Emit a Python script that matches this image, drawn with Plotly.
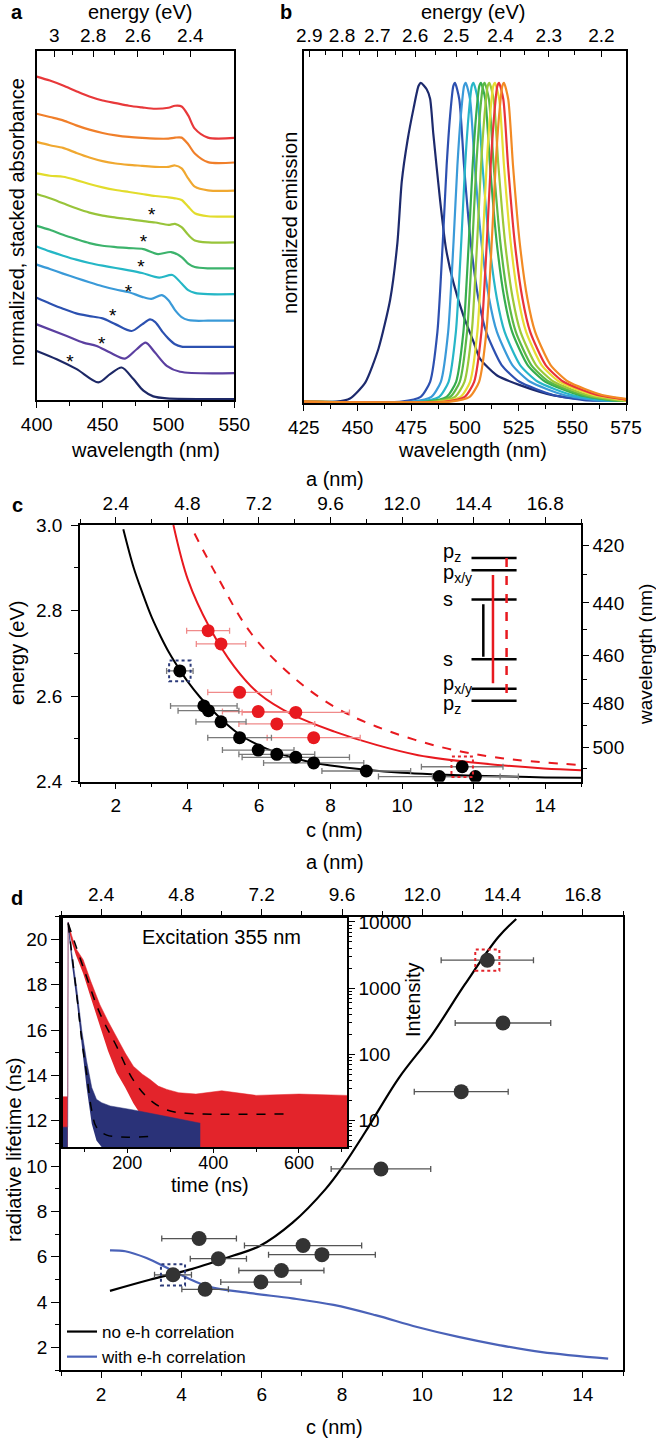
import numpy as np
import plotly.graph_objects as go

W, H = 656, 1441
HC = 1239.84  # eV * nm
FONT = "Arial, Liberation Sans, Helvetica, sans-serif"
TICK = 19
TXT = 20

# ---------------- panel a : stacked absorbance (arbitrary offset units) ----------------
abs_wl = [400, 410, 420, 430, 440, 450, 460, 470, 480, 490, 500, 505, 510, 515, 520, 530, 550]
abs_red = [9.72, 9.60, 9.45, 9.28, 9.12, 9.00, 8.92, 8.84, 8.79, 8.75, 8.78, 8.84, 8.82, 8.55, 8.15, 7.88, 7.87]
abs_orange = [8.60, 8.50, 8.40, 8.25, 8.12, 8.02, 7.95, 7.90, 7.87, 7.85, 7.85, 7.88, 7.88, 7.68, 7.40, 7.14, 7.13]
abs_lorange = [7.75, 7.65, 7.57, 7.42, 7.28, 7.17, 7.10, 7.06, 7.03, 7.00, 7.00, 7.04, 6.95, 6.65, 6.40, 6.29, 6.28]
abs_yellow = [6.80, 6.73, 6.70, 6.60, 6.48, 6.38, 6.30, 6.24, 6.18, 6.12, 6.08, 6.05, 6.00, 5.80, 5.60, 5.51, 5.50]
abs_ygreen = [6.18, 6.05, 5.90, 5.75, 5.62, 5.53, 5.47, 5.42, 5.37, 5.32, 5.25, 5.28, 5.18, 4.95, 4.78, 4.72, 4.72]

green_wl = [400, 410, 420, 430, 440, 450, 460, 470, 481, 492, 502, 510, 515, 520, 530, 550]
abs_green = [5.22, 5.10, 4.95, 4.82, 4.70, 4.62, 4.58, 4.55, 4.52, 4.37, 4.43, 4.28, 4.08, 3.98, 3.94, 3.94]
cyan_wl = [400, 410, 420, 430, 440, 450, 460, 470, 480, 493, 503, 510, 515, 520, 530, 550]
abs_cyan = [4.60, 4.45, 4.32, 4.20, 4.10, 4.02, 3.95, 3.88, 3.80, 3.66, 3.74, 3.48, 3.28, 3.20, 3.16, 3.16]
sky_wl = [400, 410, 420, 430, 440, 450, 460, 470, 480, 487, 495, 500, 505, 510, 515, 520, 530, 550]
abs_sky = [4.05, 3.92, 3.78, 3.65, 3.52, 3.40, 3.30, 3.22, 3.08, 3.02, 3.13, 2.98, 2.68, 2.47, 2.38, 2.36, 2.36, 2.36]
blue_wl = [400, 410, 420, 430, 440, 450, 460, 472, 480, 486, 490, 496, 500, 505, 510, 520, 550]
abs_blue = [3.05, 2.88, 2.72, 2.58, 2.50, 2.43, 2.25, 2.05, 2.25, 2.40, 2.32, 2.00, 1.82, 1.65, 1.58, 1.57, 1.57]
purple_wl = [400, 422.8, 435.4, 445.5, 455.7, 467, 475.9, 482.7, 489.8, 498.7, 508.8, 550]
abs_purple = [2.25, 1.90, 1.70, 1.60, 1.40, 1.22, 1.50, 1.70, 1.40, 1.00, 0.82, 0.78]
navy_wl = [400, 415.2, 430.4, 446.8, 455.7, 464.5, 473.4, 481, 488.5, 498.7, 550]
abs_navy = [1.45, 1.20, 0.90, 0.50, 0.75, 0.95, 0.60, 0.25, 0.08, 0.02, 0.0]

star_wl = [487.3, 481.0, 479.2, 469.6, 457.7, 449.3, 425.3]
star_v = [5.62, 4.82, 4.05, 3.32, 2.58, 1.75, 1.20]

energy_a_ticks = [3.0, 2.8, 2.6, 2.4]
energy_a_minor = [2.9, 2.7, 2.5]

# ---------------- panel b : normalized emission ----------------
em_wl_navy = [425, 440, 446.5, 453.6, 459.8, 465.2, 468.6, 470.6, 473.3, 476.1, 478.4, 479.5,
              482.2, 483.8, 485.3, 488.4, 491.2, 494.6, 499.3, 503.9, 507, 514.8, 525.6, 541.2, 560, 575]
em_navy = [0, 0, 0.01, 0.06, 0.167, 0.32, 0.5, 0.69, 0.82, 0.92, 0.99, 1.0,
           0.98, 0.95, 0.84, 0.635, 0.48, 0.375, 0.27, 0.19, 0.135, 0.083, 0.052, 0.02, 0.005, 0.003]
# line shape (offset from the peak in nm)
em_offset = [-25, -16, -11.6, -8.2, -5.7, -3.9, -2.3, -0.8, 0, 2.0, 4.2, 7.3, 10.9, 14.5, 21.7, 30, 45.7, 60]
em_profile = [0.0, 0.015, 0.0625, 0.219, 0.5, 0.74, 0.896, 0.99, 1.0, 0.948, 0.74, 0.5, 0.323, 0.219, 0.115, 0.0625, 0.021, 0.005]
em_peaks = [495.4, 500.4, 504.0, 507.5, 509.2, 511.4, 514.0, 515.9, 518.2]
em_colors = ["#2d50b0", "#3a9ad9", "#27b6c8", "#36ad4f", "#5cb946", "#9cc83a", "#e6dd34", "#e8333a", "#f28a24"]

energy_b_ticks = [2.9, 2.8, 2.7, 2.6, 2.5, 2.4, 2.3, 2.2]
energy_b_minor = [2.85, 2.75, 2.65, 2.55, 2.45, 2.35, 2.25]

# ---------------- panel c : energy vs size ----------------
fit_c = [2.21, 2.5, 2.75, 3.0, 3.25, 3.5, 3.79, 4.0, 4.35, 4.7, 5.0, 5.5, 6.0, 6.5, 7.0, 7.5, 8.0,
         9.0, 10.0, 11.0, 12.0, 13.0, 14.0, 15.0]
fit_E = [2.99, 2.90, 2.84, 2.785, 2.74, 2.70, 2.661, 2.635, 2.598, 2.567, 2.542, 2.508, 2.485, 2.468,
         2.455, 2.445, 2.438, 2.428, 2.421, 2.417, 2.414, 2.412, 2.41, 2.409]
red_fit_c = [3.61, 4.02, 4.61, 5.31, 6.01, 6.95, 8.11, 9.28, 10.45, 12.2, 13.96, 15.0]
red_fit_E = [3.0, 2.871, 2.762, 2.669, 2.605, 2.556, 2.517, 2.486, 2.462, 2.443, 2.431, 2.427]
red_dash_c = [4.2, 4.84, 5.78, 6.95, 8.11, 9.28, 11.04, 12.79, 15.0]
red_dash_E = [2.98, 2.879, 2.747, 2.645, 2.575, 2.529, 2.482, 2.455, 2.439]

pts_c = [3.79, 4.46, 4.59, 4.94, 5.46, 5.98, 6.5, 7.03, 7.53, 9.0, 11.04, 11.68, 12.05]
pts_E = [2.659, 2.577, 2.566, 2.54, 2.503, 2.474, 2.464, 2.457, 2.444, 2.425, 2.412, 2.435, 2.412]
pts_cerr = [0.37, 0.93, 0.85, 0.7, 0.89, 1.0, 1.06, 1.5, 1.4, 1.24, 1.7, 1.14, 1.2]
red_c = [4.58, 4.94, 5.46, 5.98, 6.5, 7.03, 7.53]
red_E = [2.753, 2.722, 2.609, 2.564, 2.535, 2.562, 2.503]
red_cerr = [0.6, 0.69, 0.89, 1.0, 1.06, 1.5, 1.3]

wl_ticks = [420, 440, 460, 480, 500]
wl_minor = [430, 450, 470, 490, 510]

level_E = [2.923, 2.894, 2.826, 2.686, 2.617, 2.589]
level_names = ["p<sub>z</sub>", "p<sub>x/y</sub>", "s", "s", "p<sub>x/y</sub>", "p<sub>z</sub>"]
level_shift = [5, -3, 0, 0, 4, -4]
level_c = [11.94, 13.2]
trans_c = [12.27, 12.54, 12.92]
trans_top = [2.815, 2.883, 2.923]
trans_bot = [2.692, 2.63, 2.591]

# ---------------- panel d : radiative lifetime ----------------
tau_c = [3.79, 4.44, 4.59, 4.92, 5.98, 6.49, 7.03, 7.5, 8.97, 10.97, 12.01, 11.62]
tau = [5.2, 6.8, 4.56, 5.91, 4.88, 5.39, 6.49, 6.09, 9.87, 13.28, 16.31, 19.08]
tau_cerr = [0.46, 0.93, 0.58, 0.7, 1.0, 1.06, 1.46, 1.33, 1.24, 1.17, 1.19, 1.15]
nocorr_c = [2.22, 3.21, 4.25, 5.28, 5.94, 6.77, 7.59, 8.0, 8.58, 9.41, 10.24, 11.06, 11.89, 12.34]
nocorr_tau = [4.49, 4.98, 5.45, 6.04, 6.46, 7.5, 8.98, 9.93, 11.5, 13.87, 15.79, 18.01, 20.09, 20.9]
corr_c = [2.22, 2.6, 3.13, 3.65, 4.16, 4.68, 5.72, 6.76, 7.79, 8.83, 9.87, 10.9, 11.94, 12.98, 14.63]
corr_tau = [6.28, 6.24, 5.94, 5.5, 5.05, 4.68, 4.39, 4.16, 3.87, 3.42, 2.9, 2.46, 2.09, 1.79, 1.5]

# inset: decay traces (log10 intensity envelopes of the noisy data)
red_t = [50, 61, 62, 70, 80, 97, 115, 136, 155, 175, 195, 214, 235, 253, 272, 292, 320, 360, 420, 500, 600, 712]
red_hi = [1.36, 1.36, 4.0, 3.8, 3.6, 3.43, 3.1, 2.75, 2.5, 2.25, 2.02, 1.82, 1.7, 1.62, 1.52, 1.47, 1.42, 1.40, 1.45, 1.38, 1.40, 1.38]
red_lo = [0.6, 0.6, 3.92, 3.7, 3.5, 3.22, 2.85, 2.43, 2.05, 1.72, 1.5, 1.26, 1.05, 0.85, 0.68, 0.6, 0.6, 0.6, 0.6, 0.6, 0.6, 0.6]
blue_t = [50, 61, 62, 70, 82, 94, 105, 117, 128, 140, 160, 214, 292, 370]
blue_hi = [0.9, 0.9, 4.0, 3.55, 3.0, 2.35, 1.9, 1.5, 1.32, 1.27, 1.22, 1.16, 1.06, 0.96]
blue_lo = [0.6, 0.6, 3.92, 3.4, 2.8, 2.1, 1.5, 0.95, 0.7, 0.6, 0.6, 0.6, 0.6, 0.6]
red_fit_t = [62, 97, 136, 175, 214, 253, 292, 339, 572]
red_fit_I = [3.98, 3.32, 2.62, 2.12, 1.61, 1.31, 1.16, 1.11, 1.10]
blue_fit_t = [62, 82, 94, 105, 117, 128, 152, 253]
blue_fit_I = [3.98, 2.9, 2.2, 1.71, 1.15, 0.9, 0.78, 0.76]
int_ticks = [10, 100, 1000, 10000]


def px(x):
    return x / W


def py(y):
    return 1 - y / H


def dummy(xa, ya, x, y):
    return go.Scatter(x=[x], y=[y], xaxis=xa, yaxis=ya, mode="markers",
                      marker=dict(opacity=0), hoverinfo="skip", showlegend=False)


fig = go.Figure()

# panel a curves
abs_sets = [
    (abs_wl, abs_red, "#e8383a"), (abs_wl, abs_orange, "#f07f2a"), (abs_wl, abs_lorange, "#f0a830"),
    (abs_wl, abs_yellow, "#e2dc2c"), (abs_wl, abs_ygreen, "#98c43a"), (green_wl, abs_green, "#3cb36c"),
    (cyan_wl, abs_cyan, "#25b7c6"), (sky_wl, abs_sky, "#3a9ad8"), (blue_wl, abs_blue, "#2c51b0"),
    (purple_wl, abs_purple, "#5b3fa0"), (navy_wl, abs_navy, "#1d2866"),
]
for wl, v, col in abs_sets:
    fig.add_trace(go.Scatter(x=wl, y=v, xaxis="x", yaxis="y", mode="lines",
                             line=dict(color=col, width=2.2, shape="spline", smoothing=0.8),
                             showlegend=False, hoverinfo="skip"))
fig.add_trace(go.Scatter(x=star_wl, y=[v - 0.12 for v in star_v], xaxis="x", yaxis="y", mode="text",
                         text=["*"] * len(star_wl), textfont=dict(size=19, color="black", family=FONT),
                         showlegend=False, hoverinfo="skip"))
fig.add_trace(dummy("x2", "y", 475, 5))

# panel b curves
fig.add_trace(go.Scatter(x=em_wl_navy, y=em_navy, xaxis="x3", yaxis="y3", mode="lines",
                         line=dict(color="#1d2a6d", width=2.2, shape="spline", smoothing=0.6),
                         showlegend=False, hoverinfo="skip"))
for pk, col in zip(em_peaks, em_colors):
    xs = [425] + [pk + o for o in em_offset] + [575]
    ys = [0] + em_profile + [0.003]
    fig.add_trace(go.Scatter(x=xs, y=ys, xaxis="x3", yaxis="y3", mode="lines",
                             line=dict(color=col, width=2.2, shape="spline", smoothing=0.6),
                             showlegend=False, hoverinfo="skip"))
fig.add_trace(dummy("x4", "y3", 500, 0.5))

# panel c
fig.add_trace(go.Scatter(x=fit_c, y=fit_E, xaxis="x5", yaxis="y5", mode="lines",
                         line=dict(color="black", width=2, shape="spline"), showlegend=False))
fig.add_trace(go.Scatter(x=red_fit_c, y=red_fit_E, xaxis="x5", yaxis="y5", mode="lines",
                         line=dict(color="#e8191f", width=2, shape="spline"), showlegend=False))
fig.add_trace(go.Scatter(x=red_dash_c, y=red_dash_E, xaxis="x5", yaxis="y5", mode="lines",
                         line=dict(color="#e8191f", width=2, dash="dash", shape="spline"), showlegend=False))
fig.add_trace(go.Scatter(x=red_c, y=red_E, xaxis="x5", yaxis="y5", mode="markers",
                         marker=dict(color="#e8191f", size=13),
                         error_x=dict(type="data", array=red_cerr, color="#f08a8a", thickness=1.3, width=3),
                         showlegend=False))
fig.add_trace(go.Scatter(x=pts_c, y=pts_E, xaxis="x5", yaxis="y5", mode="markers",
                         marker=dict(color="black", size=13),
                         error_x=dict(type="data", array=pts_cerr, color="#7a7a7a", thickness=1.3, width=3),
                         showlegend=False))
# level diagram
lx, ly = [], []
for e in level_E:
    lx += [level_c[0], level_c[1], None]
    ly += [e, e, None]
fig.add_trace(go.Scatter(x=lx, y=ly, xaxis="x5", yaxis="y5", mode="lines",
                         line=dict(color="black", width=2.5), showlegend=False))
trans_style = [("black", "solid"), ("#e8191f", "solid"), ("#e8191f", "dash")]
for xc, t0, t1, (col, dash) in zip(trans_c, trans_top, trans_bot, trans_style):
    fig.add_trace(go.Scatter(x=[xc, xc], y=[t0, t1], xaxis="x5", yaxis="y5", mode="lines",
                             line=dict(color=col, width=2.5, dash=dash), showlegend=False))
fig.add_trace(dummy("x6", "y5", 8, 2.7))
fig.add_trace(dummy("x5", "y6", 8, 2.7))

# panel d
fig.add_trace(go.Scatter(x=nocorr_c, y=nocorr_tau, xaxis="x7", yaxis="y7", mode="lines",
                         line=dict(color="black", width=2.2, shape="spline"), name="no e-h correlation"))
fig.add_trace(go.Scatter(x=corr_c, y=corr_tau, xaxis="x7", yaxis="y7", mode="lines",
                         line=dict(color="#4a62b8", width=2.2, shape="spline"), name="with e-h correlation"))
fig.add_trace(go.Scatter(x=tau_c, y=tau, xaxis="x7", yaxis="y7", mode="markers",
                         marker=dict(color="#333333", size=15),
                         error_x=dict(type="data", array=tau_cerr, color="#555555", thickness=1.3, width=3),
                         showlegend=False))
fig.add_trace(dummy("x8", "y7", 8, 10))

# inset decays
for t, lo, hi, col in [(red_t, red_lo, red_hi, "#e3242b"), (blue_t, blue_lo, blue_hi, "#2a3278")]:
    fig.add_trace(go.Scatter(x=t, y=10 ** np.array(lo), xaxis="x9", yaxis="y9", mode="lines",
                             line=dict(width=0, color=col), showlegend=False, hoverinfo="skip"))
    fig.add_trace(go.Scatter(x=t, y=10 ** np.array(hi), xaxis="x9", yaxis="y9", mode="lines",
                             line=dict(width=0.5, color=col), fill="tonexty", fillcolor=col,
                             showlegend=False, hoverinfo="skip"))
for t, v in [(red_fit_t, red_fit_I), (blue_fit_t, blue_fit_I)]:
    fig.add_trace(go.Scatter(x=t, y=10 ** np.array(v), xaxis="x9", yaxis="y9", mode="lines",
                             line=dict(color="black", width=1.5, dash="dash", shape="spline"),
                             showlegend=False, hoverinfo="skip"))

# ---------------- axes ----------------
base = dict(showline=True, linecolor="black", linewidth=1.5, showgrid=False, zeroline=False,
            ticks="outside", ticklen=6, tickwidth=1.3, tickcolor="black",
            tickfont=dict(size=TICK, color="black", family=FONT), automargin=False)


def minor(**kw):
    d = dict(ticks="outside", ticklen=4, tickwidth=1.2, tickcolor="black", showgrid=False)
    d.update(kw)
    return d


dom_a = [px(36.7), px(234.3)]
dom_b = [px(303.8), px(626)]
dom_c = [px(80), px(581)]
dom_d = [px(61), px(623)]

fig.update_layout(
    xaxis=dict(base, domain=dom_a, anchor="y", range=[400, 550], dtick=50, tick0=400, mirror=True,
               minor=minor(dtick=25, tick0=400)),
    yaxis=dict(base, domain=[py(400), py(50.7)], anchor="x", range=[-0.03, 10.5],
               showticklabels=False, ticks="", mirror=True),
    xaxis2=dict(base, overlaying="x", side="top", anchor="y", range=[400, 550], showline=False,
                tickmode="array", tickvals=[HC / e for e in energy_a_ticks],
                ticktext=[f"{e:g}" for e in energy_a_ticks], ticks="inside", ticklabelstandoff=4,
                minor=minor(ticks="inside", tickmode="array", tickvals=[HC / e for e in energy_a_minor])),
    xaxis3=dict(base, domain=dom_b, anchor="y3", range=[425, 575], dtick=25, tick0=425, mirror=True,
                minor=minor(dtick=12.5, tick0=425)),
    yaxis3=dict(base, domain=[py(403.3), py(51)], anchor="x3", range=[-0.005, 1.1],
                showticklabels=False, ticks="", mirror=True),
    xaxis4=dict(base, overlaying="x3", side="top", anchor="y3", range=[425, 575], showline=False,
                tickmode="array", tickvals=[HC / e for e in energy_b_ticks],
                ticktext=[f"{e:g}" for e in energy_b_ticks], ticks="inside", ticklabelstandoff=4,
                minor=minor(ticks="inside", tickmode="array", tickvals=[HC / e for e in energy_b_minor])),
    xaxis5=dict(base, domain=dom_c, anchor="y5", range=[1, 15], dtick=2, tick0=0,
                minor=minor(dtick=1, tick0=0)),
    yaxis5=dict(base, domain=[py(781.7), py(525)], anchor="x5", range=[2.4, 3.0], dtick=0.2, tick0=2.4,
                tickformat=".1f", ticklen=7, ticklabelstandoff=5, minor=minor(dtick=0.1, tick0=2.4)),
    xaxis6=dict(base, overlaying="x5", side="top", anchor="y5", range=[1.2, 18.0], dtick=2.4, tick0=2.4,
                tickformat=".1f", minor=minor(dtick=1.2, tick0=0)),
    yaxis6=dict(base, overlaying="y5", side="right", anchor="x5", range=[2.4, 3.0],
                tickmode="array", tickvals=[HC / w for w in wl_ticks], ticktext=[str(w) for w in wl_ticks],
                minor=minor(tickmode="array", tickvals=[HC / w for w in wl_minor])),
    xaxis7=dict(base, domain=dom_d, anchor="y7", range=[1, 15], dtick=2, tick0=0, mirror=True,
                minor=minor(dtick=1, tick0=0)),
    yaxis7=dict(base, domain=[py(1370), py(916.7)], anchor="x7", range=[1, 21], dtick=2, tick0=0,
                ticklen=8, mirror=True, minor=minor(dtick=1, tick0=0)),
    xaxis8=dict(base, overlaying="x7", side="top", anchor="y7", range=[1.2, 18.0], dtick=2.4, tick0=2.4,
                tickformat=".1f", minor=minor(dtick=1.2, tick0=0)),
    xaxis9=dict(base, domain=[px(63), px(347)], anchor="y9", range=[50, 712], dtick=200, tick0=0,
                ticklen=4, ticklabelstandoff=-5, tickfont=dict(size=18, color="black", family=FONT),
                mirror=True, minor=minor(dtick=100, tick0=0, ticklen=3)),
    yaxis9=dict(base, domain=[py(1147), py(918)], anchor="x9", side="right", type="log",
                range=[0.6, 4.06], tickmode="array", tickvals=int_ticks,
                ticktext=[str(v) for v in int_ticks], mirror=True,
                minor=minor(ticklen=3, dtick="D1")),
)

# ---------------- shapes: dashed highlight boxes ----------------
box_dc, box_dE, box_dtau = 0.3, 0.024, 0.47
shapes = []
for xr, yr, xs, ys, dy in [("x5", "y5", pts_c, pts_E, box_dE), ("x7", "y7", tau_c, tau, box_dtau)]:
    for i, col in [(0, "#2b3a7a"), (11, "#e3242b")]:
        shapes.append(dict(type="rect", xref=xr, yref=yr, x0=xs[i] - box_dc, x1=xs[i] + box_dc,
                           y0=ys[i] - dy, y1=ys[i] + dy, line=dict(color=col, width=2, dash="dot")))

# ---------------- annotations ----------------


def ann(text, x, y, size=TXT, angle=0, bold=False, xanchor="center"):
    if bold:
        text = f"<b>{text}</b>"
    return dict(text=text, x=px(x), y=py(y), xref="paper", yref="paper", showarrow=False,
                textangle=angle, xanchor=xanchor, yanchor="middle",
                font=dict(size=size, color="black", family=FONT))


annotations = [
    ann("a", 17, 12, bold=True), ann("b", 286, 12, bold=True),
    ann("c", 17, 505, bold=True), ann("d", 17, 898, bold=True),
    ann("energy (eV)", 140, 12), ann("energy (eV)", 473, 12),
    ann("wavelength (nm)", 145, 450), ann("wavelength (nm)", 472, 450),
    ann("normalized, stacked absorbance", 17, 222, angle=-90),
    ann("normalized emission", 290, 223, angle=-90),
    ann("a (nm)", 335, 479), ann("c (nm)", 335, 830),
    ann("energy (eV)", 17, 653, angle=-90), ann("wavelength (nm)", 645, 655, size=19, angle=-90),
    ann("a (nm)", 335, 862), ann("c (nm)", 335, 1427),
    ann("radiative lifetime (ns)", 14, 1150, angle=-90),
    ann("Excitation 355 nm", 221, 937), ann("time (ns)", 210, 1185),
    ann("Intensity", 413, 1000, angle=-90),
]
for e, name, sh in zip(level_E, level_names, level_shift):
    annotations.append(dict(text=name, x=11.1, y=e, xref="x5", yref="y5", showarrow=False,
                            xanchor="left", yanchor="middle", yshift=sh,
                            font=dict(size=TXT, color="black", family=FONT)))

fig.update_layout(
    width=W, height=H, autosize=False,
    margin=dict(l=0, r=0, t=0, b=0),
    paper_bgcolor="white", plot_bgcolor="white",
    font=dict(family=FONT, color="black", size=TICK),
    shapes=shapes, annotations=annotations,
    showlegend=True,
    legend=dict(x=px(62), y=py(1314), xanchor="left", yanchor="top", bgcolor="rgba(0,0,0,0)",
                traceorder="normal", font=dict(size=17, color="black", family=FONT), tracegroupgap=0),
)

# the page body has a default 8px margin; remove it so the figure fills the window exactly
fig.write_html("out.html", config=dict(displayModeBar=False),
               post_script="document.body.style.margin = '0';")
